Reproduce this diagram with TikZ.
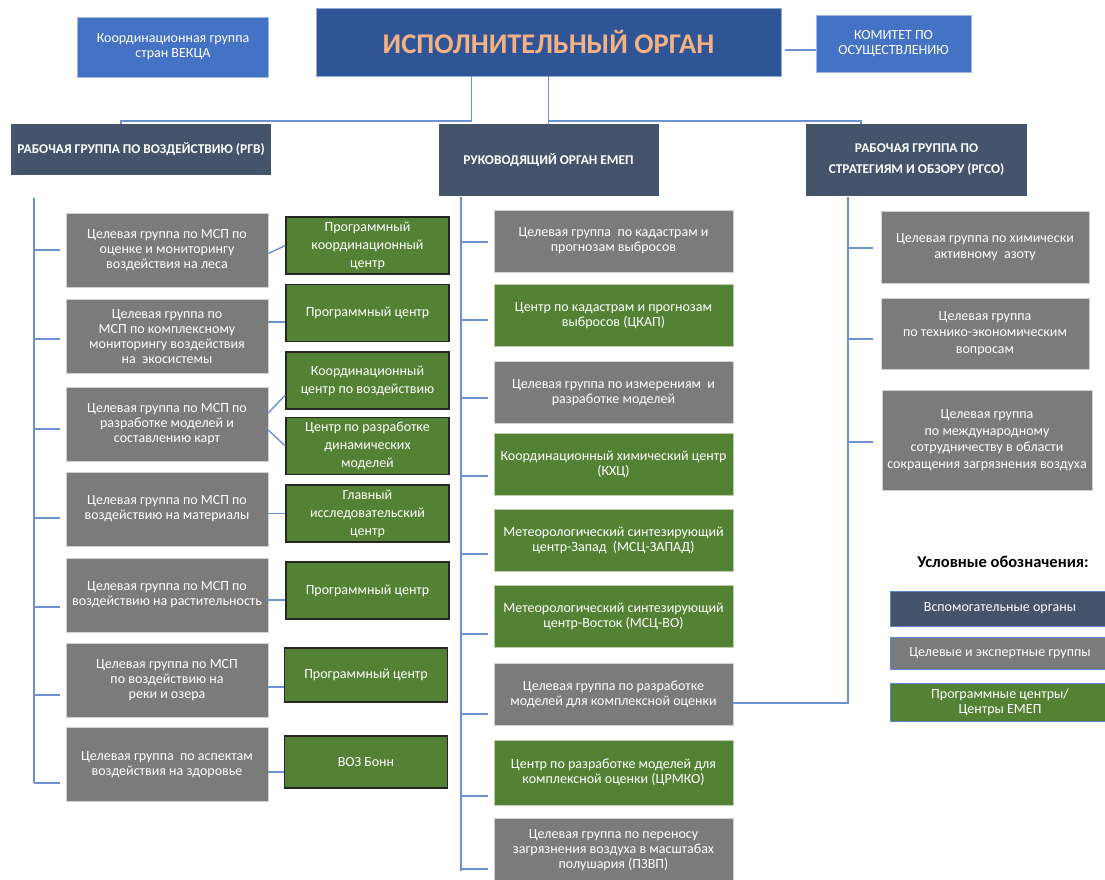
\documentclass[tikz,border=0pt]{standalone}
\usepackage{fontspec}
\setmainfont{Carlito}
\usetikzlibrary{positioning,calc}
\definecolor{execblue}{RGB}{47,85,151}
\definecolor{titleorange}{RGB}{244,177,131}
\definecolor{sideblue}{RGB}{68,114,196}
\definecolor{bodyslate}{RGB}{68,84,106}
\definecolor{groupgrey}{RGB}{123,123,123}
\definecolor{centregreen}{RGB}{84,130,53}
\definecolor{linkblue}{RGB}{110,145,208}

\begin{document}
\begin{tikzpicture}[
    x=1pt, y=-1pt,
    every node/.style={inner sep=2pt, align=center, text=white, font=\fontsize{14}{15}\selectfont},
    execbox/.style={draw=sideblue!60!white, fill=execblue, text=titleorange, font=\fontsize{28.5}{30}\selectfont\bfseries, minimum width=465pt, minimum height=68pt},
    sidebox/.style={draw=sideblue!50!white, fill=sideblue},
    wgbox/.style={fill=bodyslate, font=\fontsize{13.4}{21}\selectfont\bfseries},
    tfbox/.style={draw=gray!35, fill=groupgrey},
    leftgrey/.style={tfbox, minimum width=202pt, minimum height=74pt},
    leftgreen/.style={draw=black!85, line width=1.3pt, fill=centregreen, minimum width=163pt, minimum height=57pt, font=\fontsize{14}{18}\selectfont},
    midgrey/.style={tfbox, minimum width=239pt, minimum height=62pt},
    midgreen/.style={draw=centregreen!40!white, fill=centregreen, minimum width=239pt, minimum height=62pt},
    rightgrey/.style={tfbox, minimum width=208pt, minimum height=72pt, font=\fontsize{14}{16.5}\selectfont},
    keybox/.style={draw=sideblue!85!white, line width=1pt, minimum width=220pt},
    link/.style={draw=linkblue, line width=1.4pt}
]
\useasboundingbox (0,0) rectangle (1105,880);

% Top row
\node[execbox] (exec) at (548.5,42) {ИСПОЛНИТЕЛЬНЫЙ ОРГАН};
\node[sidebox, minimum width=191pt, minimum height=60pt] (vekca) at (173,47) {Координационная группа\\стран ВЕКЦА};
\node[sidebox, minimum width=155pt, minimum height=57pt] (komitet) at (893.5,43.5) {КОМИТЕТ ПО\\ОСУЩЕСТВЛЕНИЮ};

% Subsidiary bodies
\node[wgbox, minimum width=260pt, minimum height=51pt] (rgv) at (141,149.5) {РАБОЧАЯ ГРУППА ПО ВОЗДЕЙСТВИЮ (РГВ)};
\node[wgbox, minimum width=220pt, minimum height=72pt] (emep) at (548.5,160) {РУКОВОДЯЩИЙ ОРГАН ЕМЕП};
\node[wgbox, minimum width=221pt, minimum height=72pt] (rgso) at (916.5,160) {РАБОЧАЯ ГРУППА ПО\\СТРАТЕГИЯМ И ОБЗОРУ (РГСО)};

% Left column: task forces
\node[leftgrey] (lg1) at (167,250) {Целевая группа по МСП по\\оценке и мониторингу\\воздействия на леса};
\node[leftgrey] (lg2) at (167,336.5) {Целевая группа по\\МСП по комплексному\\мониторингу воздействия\\на~ экосистемы};
\node[leftgrey] (lg3) at (167,424) {Целевая группа по МСП по\\разработке моделей и\\составлению карт};
\node[leftgrey] (lg4) at (167,509) {Целевая группа по МСП по\\воздействию на материалы};
\node[leftgrey] (lg5) at (167,595) {Целевая группа по МСП по\\воздействию на растительность};
\node[leftgrey] (lg6) at (167,680) {Целевая группа по МСП\\по воздействию на\\реки и озера};
\node[leftgrey] (lg7) at (167,764.5) {Целевая группа~ по аспектам\\воздействия на здоровье};

% Left column: programme centres
\node[leftgreen] (pc1) at (367.5,245.5) {Программный\\координационный\\центр};
\node[leftgreen] (pc2) at (367.5,313) {Программный центр};
\node[leftgreen] (pc3) at (367.5,380.5) {Координационный\\центр по воздействию};
\node[leftgreen] (pc4) at (367.5,446) {Центр по разработке\\динамических\\моделей};
\node[leftgreen] (pc5) at (367.5,513.5) {Главный\\исследовательский\\центр};
\node[leftgreen] (pc6) at (367.5,590.5) {Программный центр};
\node[leftgreen, minimum height=54pt] (pc7) at (366,675) {Программный центр};
\node[leftgreen, minimum height=52pt] (pc8) at (366,762) {ВОЗ Бонн};

% Middle column
\node[midgrey] (mg1) at (613.5,241) {Целевая группа~ по кадастрам и\\прогнозам выбросов};
\node[midgreen] (mg2) at (613.5,315.5) {Центр по кадастрам и прогнозам\\выбросов (ЦКАП)};
\node[midgrey] (mg3) at (613.5,392.5) {Целевая группа по измерениям~ и\\разработке моделей};
\node[midgreen] (mg4) at (613.5,464.5) {Координационный химический центр\\(КХЦ)};
\node[midgreen] (mg5) at (613.5,540.5) {Метеорологический синтезирующий\\центр-Запад~ (МСЦ-ЗАПАД)};
\node[midgreen] (mg6) at (613.5,616) {Метеорологический синтезирующий\\центр-Восток (МСЦ-ВО)};
\node[midgrey] (mg7) at (613.5,694.5) {Целевая группа по разработке\\моделей для комплексной оценки};
\node[midgreen, minimum height=65pt] (mg8) at (613.5,772.5) {Центр по разработке моделей для\\комплексной оценки (ЦРМКО)};
\node[midgrey, minimum height=64pt] (mg9) at (613.5,850) {Целевая группа по переносу\\загрязнения воздуха в масштабах\\полушария (ПЗВП)};

% Right column
\node[rightgrey] (rg1) at (985,247) {Целевая группа по химически\\активному~ азоту};
\node[rightgrey, minimum height=71pt] (rg2) at (985,333.5) {Целевая группа\\по технико-экономическим\\вопросам};
\node[rightgrey, minimum width=210pt, minimum height=100pt] (rg3) at (987,440) {Целевая группа\\по международному\\сотрудничеству в области\\сокращения загрязнения воздуха};

% Legend
\node[text=black, font=\fontsize{16.5}{18}\selectfont\bfseries] (keytitle) at (1003,562) {Условные обозначения:};
\node[keybox, fill=bodyslate, minimum height=35pt] (key1) at (1000,608.5) {Вспомогательные органы};
\node[keybox, fill=groupgrey, minimum height=32pt] (key2) at (1000,653) {Целевые и экспертные группы};
\node[keybox, fill=centregreen, minimum height=38pt] (key3) at (1000,702) {Программные центры/\\Центры ЕМЕП};

% Trunks
\coordinate (ltop) at (34,198);
\coordinate (lbot) at (34,783);
\coordinate (mtop) at (461,197);
\coordinate (mbot) at (461,871);
\coordinate (rtop) at (848,197);

% Connections from the executive body
\draw[link, shorten <=4pt] ([yshift=-8pt]exec.east) -- ([yshift=-6.5pt]komitet.west);
\draw[link] ([xshift=-77pt]exec.south) -- ++(0,45) -| ([xshift=-20pt]rgv.north);
\draw[link] (exec.south) -- (emep.north);
\draw[link] (exec.south) ++(0,45) -| ([xshift=-55.5pt]rgso.north);

% Left trunk
\draw[link] (ltop) -- (lbot);
\draw[link] ([xshift=-32pt]lg1.west) -- ([xshift=-6pt]lg1.west);
\draw[link] ([xshift=-32pt,yshift=-2.5pt]lg2.west) -- ([xshift=-6pt,yshift=-2.5pt]lg2.west);
\draw[link] ([xshift=-32pt,yshift=-5pt]lg3.west) -- ([xshift=-6pt,yshift=-5pt]lg3.west);
\draw[link] ([xshift=-32pt,yshift=-9pt]lg4.west) -- ([xshift=-6pt,yshift=-9pt]lg4.west);
\draw[link] ([xshift=-32pt,yshift=-12pt]lg5.west) -- ([xshift=-6pt,yshift=-12pt]lg5.west);
\draw[link] ([xshift=-32pt,yshift=-15pt]lg6.west) -- ([xshift=-6pt,yshift=-15pt]lg6.west);
\draw[link] ([xshift=-32pt,yshift=-18.5pt]lg7.west) -- ([xshift=-6pt,yshift=-18.5pt]lg7.west);

% Task forces to centres
\draw[link] ([yshift=-3.5pt]lg1.east) -- (pc1.west);
\draw[link] ([yshift=14.5pt]lg2.east) -- ([yshift=-9pt]pc2.west);
\draw[link] ([yshift=11pt]lg3.east) -- ([yshift=-14.5pt]pc3.west);
\draw[link] ([yshift=-6pt]lg3.east) -- (pc4.west);
\draw[link] ([yshift=-4.5pt]lg4.east) -- (pc5.west);
\draw[link] ([yshift=-5pt]lg5.east) -- ([yshift=-9.5pt]pc6.west);
\draw[link] ([yshift=-7pt]lg6.east) -- ([yshift=-12pt]pc7.west);
\draw[link] ([yshift=-7.5pt]lg7.east) -- ([yshift=-10pt]pc8.west);

% Middle trunk
\draw[link] (mtop) -- (mbot);
\draw[link] ([xshift=-33pt,yshift=-1pt]mg1.west) -- ([xshift=-6pt,yshift=-1pt]mg1.west);
\draw[link] ([xshift=-33pt,yshift=-4.5pt]mg2.west) -- ([xshift=-6pt,yshift=-4.5pt]mg2.west);
\draw[link] ([xshift=-33pt,yshift=-5.5pt]mg3.west) -- ([xshift=-6pt,yshift=-5.5pt]mg3.west);
\draw[link] ([xshift=-33pt,yshift=-11.5pt]mg4.west) -- ([xshift=-6pt,yshift=-11.5pt]mg4.west);
\draw[link] ([xshift=-33pt,yshift=-13.5pt]mg5.west) -- ([xshift=-6pt,yshift=-13.5pt]mg5.west);
\draw[link] ([xshift=-33pt,yshift=-18pt]mg6.west) -- ([xshift=-6pt,yshift=-18pt]mg6.west);
\draw[link] ([xshift=-33pt,yshift=-19.5pt]mg7.west) -- ([xshift=-6pt,yshift=-19.5pt]mg7.west);
\draw[link] ([xshift=-33pt,yshift=-23.5pt]mg8.west) -- ([xshift=-6pt,yshift=-23.5pt]mg8.west);
\draw[link] ([xshift=-33pt,yshift=-19pt]mg9.west) -- ([xshift=-6pt,yshift=-19pt]mg9.west);

% Right trunk
\draw[link] (rtop) |- ([yshift=-8.5pt]mg7.east);
\draw[link] ([xshift=-33pt,yshift=-1pt]rg1.west) -- ([xshift=-8pt,yshift=-1pt]rg1.west);
\draw[link] ([xshift=-33pt,yshift=-5.5pt]rg2.west) -- ([xshift=-8pt,yshift=-5.5pt]rg2.west);
\draw[link] ([xshift=-34pt,yshift=-2pt]rg3.west) -- ([xshift=-9pt,yshift=-2pt]rg3.west);

\end{tikzpicture}
\end{document}
